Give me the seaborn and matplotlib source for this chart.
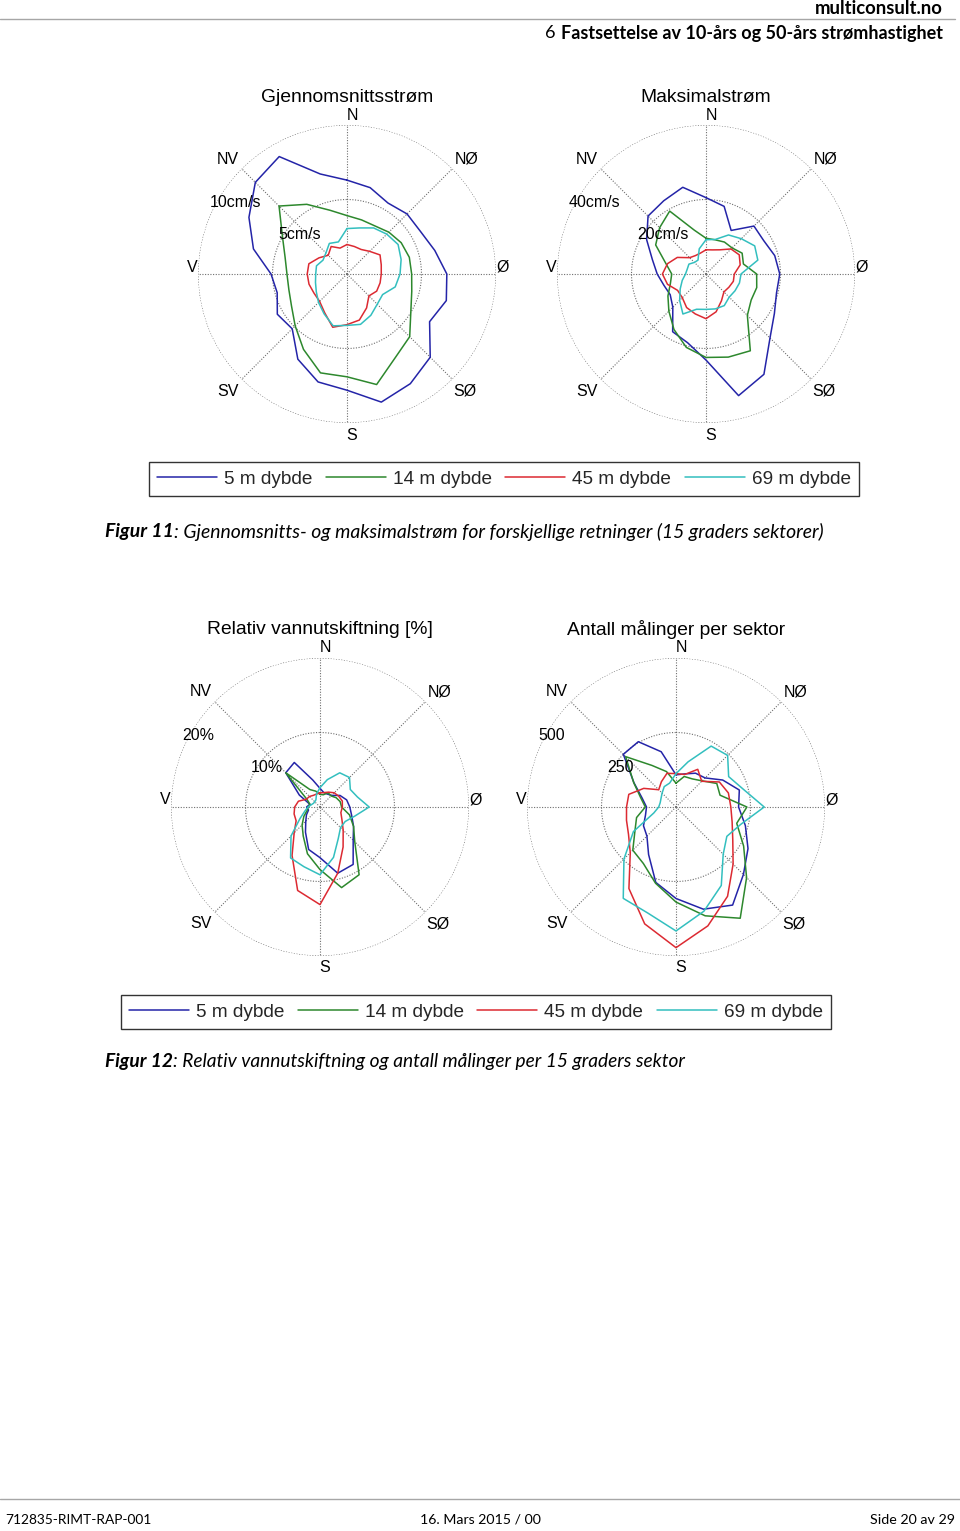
import numpy as np
import pandas as pd
import matplotlib
matplotlib.use("Agg")
import matplotlib.pyplot as plt
import seaborn as sns
from matplotlib.lines import Line2D

# ---------------- data (values per 15-degree sector, compass bearing) ----------------
directions = list(range(0, 360, 15))
depths = ["5 m dybde", "14 m dybde", "45 m dybde", "69 m dybde"]

# Gjennomsnittsstrøm [cm/s]
mean_5 = [6.3, 6.0, 5.5, 5.7, 5.7, 6.1, 6.7, 6.9, 6.4, 7.9, 8.5, 8.9, 7.8, 7.5, 6.6, 5.2, 5.4, 4.85, 5.1, 6.5, 7.6, 8.7, 9.1, 6.95]
mean_14 = [3.92, 3.76, 3.73, 3.97, 4.2, 4.33, 4.34, 4.5, 4.95, 5.95, 6.48, 7.68, 6.9, 6.87, 5.84, 4.92, 4.3, 4.04, 4.03, 4.3, 5.0, 6.45, 5.4, 4.43]
mean_45 = [1.98, 1.91, 1.9, 2.15, 2.56, 2.38, 2.3, 2.3, 2.3, 2.08, 2.63, 3.2, 3.4, 3.7, 3.0, 2.6, 2.56, 2.64, 2.67, 2.65, 2.17, 1.78, 2.13, 1.8]
mean_69 = [3.05, 3.2, 3.57, 3.78, 3.96, 3.76, 3.56, 3.35, 2.76, 2.87, 3.2, 3.5, 3.45, 3.6, 3.08, 2.7, 2.38, 2.19, 2.1, 2.12, 1.86, 2.0, 2.37, 2.23]

# Maksimalstrøm [cm/s]
max_5 = [20.5, 18.8, 13.5, 18.2, 17.9, 19.1, 19.8, 19.6, 21.2, 24.3, 31.1, 33.8, 23.1, 19.1, 17.9, 12.6, 11.1, 11.7, 13.1, 14.9, 18.4, 22.0, 22.7, 24.1]
max_14 = [9.6, 9.5, 9.9, 9.9, 11.2, 10.4, 13.6, 14.1, 14.0, 15.7, 23.8, 23.1, 22.4, 20.4, 17.2, 14.1, 11.8, 9.9, 9.2, 11.2, 15.6, 17.6, 19.5, 12.2]
max_45 = [6.5, 6.7, 7.5, 9.5, 10.3, 9.5, 7.6, 7.6, 7.1, 6.8, 8.3, 10.5, 12.0, 11.1, 10.4, 9.0, 8.8, 10.7, 11.7, 10.7, 8.9, 6.2, 5.7, 5.8]
max_69 = [9.2, 9.6, 12.1, 13.4, 15.1, 14.4, 9.4, 9.3, 9.0, 8.8, 9.8, 9.7, 9.5, 9.8, 12.4, 10.0, 8.0, 6.6, 5.5, 5.2, 5.3, 4.4, 4.3, 7.0]

# Relativ vannutskiftning [%]
rel_5 = [2.5, 2.0, 2.0, 2.2, 3.1, 3.7, 4.0, 4.4, 5.2, 6.3, 8.9, 9.2, 6.8, 5.9, 3.9, 2.7, 2.1, 1.6, 1.8, 1.4, 3.2, 6.5, 6.9, 3.75]
rel_14 = [1.7, 1.7, 2.2, 2.1, 2.5, 2.8, 2.9, 4.1, 5.2, 6.6, 10.5, 11.2, 8.4, 6.5, 4.5, 3.4, 2.5, 1.8, 1.6, 1.4, 2.0, 6.5, 2.7, 2.2]
rel_45 = [1.9, 2.0, 2.3, 2.7, 2.9, 3.1, 3.0, 2.9, 3.4, 4.4, 6.2, 9.2, 13.1, 11.6, 7.5, 4.9, 3.7, 3.6, 3.4, 3.0, 2.1, 2.0, 1.8, 1.8]
rel_69 = [2.6, 3.8, 5.3, 5.6, 4.7, 5.2, 6.6, 4.8, 3.9, 3.9, 4.9, 7.0, 9.1, 8.3, 7.9, 5.5, 3.1, 2.1, 1.6, 1.2, 1.0, 1.0, 1.1, 1.8]

# Antall målinger per sektor
cnt_5 = [108, 115, 131, 138, 181, 220, 210, 241, 279, 320, 380, 355, 307, 262, 184, 138, 126, 106, 99, 118, 163, 250, 253, 192]
cnt_14 = [80, 106, 109, 124, 158, 153, 238, 211, 262, 335, 431, 378, 319, 265, 219, 205, 159, 137, 103, 123, 164, 239, 161, 123]
cnt_45 = [112, 113, 146, 122, 168, 182, 184, 195, 220, 271, 346, 413, 472, 406, 316, 217, 184, 172, 166, 164, 125, 82, 98, 117]
cnt_69 = [112, 157, 236, 245, 204, 233, 296, 225, 197, 224, 304, 362, 416, 368, 354, 247, 165, 77, 58, 55, 58, 66, 79, 83]

compass_labels = ["N", "NØ", "Ø", "SØ", "S", "SV", "V", "NV"]

# ---------------- styling ----------------
W, H = 960, 1531
sns.set_theme(style="white")
plt.rcParams["font.family"] = ["Liberation Sans", "DejaVu Sans"]
PAGE_FONT = ["Lato", "DejaVu Sans"]

colors = ["#2424a8", "#2d882d", "#dc2a32", "#33bfbf"]
palette = dict(zip(depths, colors))

fig = plt.figure(figsize=(W / 100, H / 100), dpi=100)
fig.patch.set_facecolor("white")
renderer = fig.canvas.get_renderer()

R = 149  # px radius of the outer ring
grid_kw = dict(color="#6e6e6e", lw=0.8, ls=(0, (1, 1.4)), zorder=1)
# pixel offsets of compass labels from plot centre (x right, y down)
label_off = {"N": (5, -159), "NØ": (120, -115), "Ø": (156, -7), "SØ": (118, 117),
             "S": (5, 161), "SV": (-119, 117), "V": (-155, -7), "NV": (-119, -115)}

panels = [
    dict(title="Gjennomsnittsstrøm", c=(347, 274), rmax=10, rings=("5cm/s", "10cm/s"),
         series=[mean_5, mean_14, mean_45, mean_69]),
    dict(title="Maksimalstrøm", c=(706, 274), rmax=40, rings=("20cm/s", "40cm/s"),
         series=[max_5, max_14, max_45, max_69]),
    dict(title="Relativ vannutskiftning [%]", c=(320, 807), rmax=20, rings=("10%", "20%"),
         series=[rel_5, rel_14, rel_45, rel_69]),
    dict(title="Antall målinger per sektor", c=(676, 807), rmax=500, rings=("250", "500"),
         series=[cnt_5, cnt_14, cnt_45, cnt_69]),
]

legend_handles = None
for p in panels:
    cx, cy = p["c"]
    rmax = p["rmax"]
    ax = fig.add_axes([(cx - R) / W, (H - cy - R) / H, 2 * R / W, 2 * R / H], projection="polar")
    ax.set_theta_zero_location("N")
    ax.set_theta_direction(-1)
    ax.grid(False)
    ax.spines["polar"].set_visible(False)
    ax.set_facecolor("white")

    tt = np.linspace(0, 2 * np.pi, 400)
    for rr in (rmax / 2, rmax):
        ax.plot(tt, np.full_like(tt, rr), **grid_kw)
    for a in range(0, 360, 45):
        ax.plot([np.deg2rad(a)] * 2, [0, rmax], **grid_kw)

    n0 = len(ax.get_lines())
    rows = []
    for d, vals in zip(depths, p["series"]):
        closed_dirs = directions + [360]
        closed_vals = list(vals) + [vals[0]]
        for th, v in zip(closed_dirs, closed_vals):
            rows.append({"theta": np.deg2rad(th), "r": v, "depth": d})
    df = pd.DataFrame(rows)
    sns.lineplot(data=df, x="theta", y="r", hue="depth", hue_order=depths, palette=palette,
                 sort=False, estimator=None, ax=ax, legend=False, linewidth=1.1, zorder=3)
    if legend_handles is None:
        legend_handles = ax.get_lines()[n0:n0 + 4]

    ax.set_xlabel("")
    ax.set_ylabel("")
    ax.set_xticks([])
    ax.set_yticks([])
    ax.set_ylim(0, rmax)

    for lab in compass_labels:
        dx, dy = label_off[lab]
        ax.text(0.5 + dx / (2 * R), 0.5 - dy / (2 * R), lab, transform=ax.transAxes,
                ha="center", va="center", fontsize=11.5, color="black")
    ax.text(0.5, 0.5 + 177 / (2 * R), p["title"], transform=ax.transAxes,
            ha="center", va="center", fontsize=13.9, color="black")
    ax.text(np.deg2rad(300), 0.535 * rmax, p["rings"][0], ha="left", va="center",
            fontsize=11.5, color="black", zorder=4)
    ax.text(np.deg2rad(297.5), 1.04 * rmax, p["rings"][1], ha="left", va="center",
            fontsize=11.5, color="black", zorder=4)

# ---------------- legends ----------------
for (lx, ly) in [(504, 479), (476, 1012)]:
    fig.legend(legend_handles, depths, loc="center", bbox_to_anchor=(lx / W, 1 - ly / H),
               ncol=4, fontsize=13.7, handlelength=3.15, handletextpad=0.37,
               columnspacing=0.7, borderpad=0.45, frameon=True, fancybox=False,
               edgecolor="#333333", framealpha=1)

# ---------------- page text ----------------
def fx(x):
    return x / W

def fy(y):
    return 1 - y / H

def fitted(parts, x, y, total_width, ha="left", color="black"):
    texts = [fig.text(0, 0, s, fontsize=10, family=PAGE_FONT, color=color, va="center", **kw)
             for s, kw in parts]
    widths = [t.get_window_extent(renderer).width for t in texts]
    fs = 10 * total_width / sum(widths)
    for t in texts:
        t.set_fontsize(fs)
    widths = [t.get_window_extent(renderer).width for t in texts]
    start = x if ha == "left" else x - sum(widths)
    cur = start
    for t, w in zip(texts, widths):
        t.set_position((fx(cur), fy(y)))
        cur += w
    return fs

# header
fitted([("multiconsult.no", dict(weight="bold"))], 943, 8, 128, ha="right")
fig.add_artist(Line2D([0, 955 / W], [fy(19), fy(19)], transform=fig.transFigure,
                      color="#a6a6a6", lw=1.0))
fs_h = fitted([("Fastsettelse av 10-års og 50-års strømhastighet", dict(weight="bold"))],
              943, 33, 382, ha="right")
fig.text(fx(545), fy(33), "6", fontsize=fs_h, family=PAGE_FONT, va="center", color="black")

# captions
fitted([("Figur 11", dict(weight="bold", style="italic")),
        (": Gjennomsnitts- og maksimalstrøm for forskjellige retninger (15 graders sektorer)",
         dict(style="italic"))], 105, 532, 717)
fitted([("Figur 12", dict(weight="bold", style="italic")),
        (": Relativ vannutskiftning og antall målinger per 15 graders sektor",
         dict(style="italic"))], 105, 1062, 582)

# footer
fig.add_artist(Line2D([0, 1], [fy(1499), fy(1499)], transform=fig.transFigure,
                      color="#a6a6a6", lw=1.0))
fitted([("712835-RIMT-RAP-001", {})], 5, 1520, 146)
fitted([("16. Mars 2015 / 00", {})], 420, 1520, 121)
fitted([("Side 20 av 29", {})], 955, 1520, 85, ha="right")

fig.savefig("out.png", dpi=100, facecolor="white")
